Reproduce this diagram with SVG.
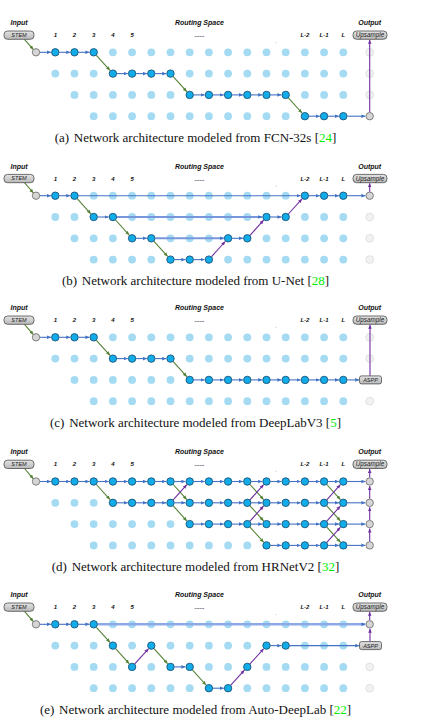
<svg xmlns="http://www.w3.org/2000/svg" xmlns:xlink="http://www.w3.org/1999/xlink" width="426" height="723" viewBox="0 0 426 723">
<style>
.l{fill:#a5dbf2}
.a{fill:#12ade8;stroke:#1d4a6e;stroke-width:0.8}
.gr{fill:#d6d6d6;stroke:#666;stroke-width:0.8}
.fo{fill:#f2f2f2;stroke:#d2d2d2;stroke-width:0.6}
.box{fill:url(#gb);stroke:#4d4d4d;stroke-width:0.8}
.b{stroke:#4472c4;stroke-width:1.1;fill:none;marker-end:url(#mb)}
.bl{stroke:#7896dc;stroke-width:2;fill:none;marker-end:url(#mb)}
.bx{stroke:#8eaae6;stroke-width:2.6;fill:none;marker-end:url(#mb)}
.g{stroke:#548235;stroke-width:1.1;fill:none;marker-end:url(#mg)}
.p{stroke:#7030a0;stroke-width:1.1;fill:none;marker-end:url(#mp)}
.hd{font-family:"Liberation Sans",Arial,sans-serif;font-weight:bold;font-style:italic;font-size:7px;text-anchor:middle;fill:#111}
.cl{font-family:"Liberation Sans",Arial,sans-serif;font-weight:bold;font-style:italic;font-size:6px;text-anchor:middle;fill:#111}
.bt{font-family:"Liberation Sans",Arial,sans-serif;font-style:italic;font-size:5.5px;text-anchor:middle;fill:#222}
.bu{font-size:6.3px}
.cap{font-family:"Liberation Serif","Times New Roman",serif;font-size:13px;text-anchor:middle;fill:#111}
.ct{fill:#00ee00}
.sp{fill:#c4c4c4}
</style>
<defs>
<linearGradient id="gb" x1="0" y1="0" x2="0" y2="1"><stop offset="0" stop-color="#e4e4e4"/><stop offset="1" stop-color="#b8b8b8"/></linearGradient>
<marker id="mb" markerUnits="userSpaceOnUse" markerWidth="4" markerHeight="4" refX="3.6" refY="1.6" orient="auto" viewBox="0 0 3.6 3.2"><path d="M0 0L3.6 1.6L0 3.2z" fill="#4472c4"/></marker>
<marker id="mg" markerUnits="userSpaceOnUse" markerWidth="4" markerHeight="4" refX="3.6" refY="1.6" orient="auto" viewBox="0 0 3.6 3.2"><path d="M0 0L3.6 1.6L0 3.2z" fill="#548235"/></marker>
<marker id="mp" markerUnits="userSpaceOnUse" markerWidth="4" markerHeight="4" refX="3.6" refY="1.6" orient="auto" viewBox="0 0 3.6 3.2"><path d="M0 0L3.6 1.6L0 3.2z" fill="#7030a0"/></marker>
<g id="grid" class="l">
<circle cx="55.3" cy="52.3" r="3.9"/><circle cx="74.5" cy="52.3" r="3.9"/><circle cx="93.7" cy="52.3" r="3.9"/><circle cx="112.9" cy="52.3" r="3.9"/><circle cx="132.1" cy="52.3" r="3.9"/><circle cx="151.3" cy="52.3" r="3.9"/><circle cx="170.5" cy="52.3" r="3.9"/><circle cx="189.7" cy="52.3" r="3.9"/><circle cx="208.9" cy="52.3" r="3.9"/><circle cx="228.1" cy="52.3" r="3.9"/><circle cx="247.3" cy="52.3" r="3.9"/><circle cx="266.5" cy="52.3" r="3.9"/><circle cx="285.7" cy="52.3" r="3.9"/><circle cx="304.9" cy="52.3" r="3.9"/><circle cx="324.1" cy="52.3" r="3.9"/><circle cx="343.3" cy="52.3" r="3.9"/>
<circle cx="55.3" cy="73.6" r="3.9"/><circle cx="74.5" cy="73.6" r="3.9"/><circle cx="93.7" cy="73.6" r="3.9"/><circle cx="112.9" cy="73.6" r="3.9"/><circle cx="132.1" cy="73.6" r="3.9"/><circle cx="151.3" cy="73.6" r="3.9"/><circle cx="170.5" cy="73.6" r="3.9"/><circle cx="189.7" cy="73.6" r="3.9"/><circle cx="208.9" cy="73.6" r="3.9"/><circle cx="228.1" cy="73.6" r="3.9"/><circle cx="247.3" cy="73.6" r="3.9"/><circle cx="266.5" cy="73.6" r="3.9"/><circle cx="285.7" cy="73.6" r="3.9"/><circle cx="304.9" cy="73.6" r="3.9"/><circle cx="324.1" cy="73.6" r="3.9"/><circle cx="343.3" cy="73.6" r="3.9"/>
<circle cx="74.5" cy="94.9" r="3.9"/><circle cx="93.7" cy="94.9" r="3.9"/><circle cx="112.9" cy="94.9" r="3.9"/><circle cx="132.1" cy="94.9" r="3.9"/><circle cx="151.3" cy="94.9" r="3.9"/><circle cx="170.5" cy="94.9" r="3.9"/><circle cx="189.7" cy="94.9" r="3.9"/><circle cx="208.9" cy="94.9" r="3.9"/><circle cx="228.1" cy="94.9" r="3.9"/><circle cx="247.3" cy="94.9" r="3.9"/><circle cx="266.5" cy="94.9" r="3.9"/><circle cx="285.7" cy="94.9" r="3.9"/><circle cx="304.9" cy="94.9" r="3.9"/><circle cx="324.1" cy="94.9" r="3.9"/><circle cx="343.3" cy="94.9" r="3.9"/>
<circle cx="93.7" cy="116.2" r="3.9"/><circle cx="112.9" cy="116.2" r="3.9"/><circle cx="132.1" cy="116.2" r="3.9"/><circle cx="151.3" cy="116.2" r="3.9"/><circle cx="170.5" cy="116.2" r="3.9"/><circle cx="189.7" cy="116.2" r="3.9"/><circle cx="208.9" cy="116.2" r="3.9"/><circle cx="228.1" cy="116.2" r="3.9"/><circle cx="247.3" cy="116.2" r="3.9"/><circle cx="266.5" cy="116.2" r="3.9"/><circle cx="285.7" cy="116.2" r="3.9"/><circle cx="304.9" cy="116.2" r="3.9"/><circle cx="324.1" cy="116.2" r="3.9"/><circle cx="343.3" cy="116.2" r="3.9"/>
</g>
</defs>
<rect width="426" height="723" fill="#fff"/>

<!-- Panel A -->
<g id="panel-a">
<text class="hd" x="19" y="25.2">Input</text><text class="hd" x="199.5" y="25.2">Routing Space</text><text class="hd" x="369.7" y="25.2">Output</text>
<text class="cl" x="55.3" y="37.3">1</text><text class="cl" x="74.5" y="37.3">2</text><text class="cl" x="93.7" y="37.3">3</text><text class="cl" x="112.9" y="37.3">4</text><text class="cl" x="132.1" y="37.3">5</text><text class="cl" x="199.5" y="37.3">......</text><text class="cl" x="304.9" y="37.3">L-2</text><text class="cl" x="324.1" y="37.3">L-1</text><text class="cl" x="343.3" y="37.3">L</text>
<circle class="sp" cx="276.3" cy="42.5" r="0.6"/>
<use xlink:href="#grid"/>
<circle class="fo" cx="369.7" cy="52.3" r="3.9"/><circle class="fo" cx="369.7" cy="73.6" r="3.9"/><circle class="fo" cx="369.7" cy="94.9" r="3.9"/>
<g id="a-links">
<path class="g" d="M24.5 39.3L33.4 49.6"/>
<path class="b" d="M40 52.3H51"/><path class="b" d="M59.3 52.3H70.2"/><path class="b" d="M78.5 52.3H89.4"/>
<path class="g" d="M96.4 55.3L110 70.4"/>
<path class="b" d="M116.9 73.6H127.8"/><path class="b" d="M136.1 73.6H147"/><path class="b" d="M155.3 73.6H166.2"/>
<path class="g" d="M173.2 76.6L186.8 91.7"/>
<path class="b" d="M193.7 94.9H204.6"/><path class="b" d="M212.9 94.9H223.8"/><path class="b" d="M232.1 94.9H243"/><path class="b" d="M251.3 94.9H262.2"/><path class="b" d="M270.5 94.9H281.4"/>
<path class="g" d="M288.4 97.9L302 113"/>
<path class="b" d="M308.9 116.2H319.8"/><path class="b" d="M328.1 116.2H339"/><path class="b" d="M347.3 116.2H365.4"/>
<path class="p" d="M369.7 112.2V39.8"/>
</g>
<g id="a-stem"><rect class="box" x="4" y="31" width="30" height="8.3" rx="3.5"/><text class="bt" x="19" y="37.1">STEM</text></g>
<g id="a-up"><rect class="box" x="353" y="31" width="34" height="8.3" rx="3.5"/><text class="bt bu" x="370" y="37.3">Upsample</text></g>
<g id="a-nodes">
<circle id="a-in" class="gr" cx="36" cy="52.3" r="3.7"/>
<circle id="a-r0c0" class="a" cx="55.3" cy="52.3" r="3.7"/><circle id="a-r0c1" class="a" cx="74.5" cy="52.3" r="3.7"/><circle id="a-r0c2" class="a" cx="93.7" cy="52.3" r="3.7"/>
<circle id="a-r1c3" class="a" cx="112.9" cy="73.6" r="3.7"/><circle id="a-r1c4" class="a" cx="132.1" cy="73.6" r="3.7"/><circle id="a-r1c5" class="a" cx="151.3" cy="73.6" r="3.7"/><circle id="a-r1c6" class="a" cx="170.5" cy="73.6" r="3.7"/>
<circle id="a-r2c7" class="a" cx="189.7" cy="94.9" r="3.7"/><circle id="a-r2c8" class="a" cx="208.9" cy="94.9" r="3.7"/><circle id="a-r2c9" class="a" cx="228.1" cy="94.9" r="3.7"/><circle id="a-r2c10" class="a" cx="247.3" cy="94.9" r="3.7"/><circle id="a-r2c11" class="a" cx="266.5" cy="94.9" r="3.7"/><circle id="a-r2c12" class="a" cx="285.7" cy="94.9" r="3.7"/>
<circle id="a-r3c13" class="a" cx="304.9" cy="116.2" r="3.7"/><circle id="a-r3c14" class="a" cx="324.1" cy="116.2" r="3.7"/><circle id="a-r3c15" class="a" cx="343.3" cy="116.2" r="3.7"/>
<circle id="a-out3" class="gr" cx="369.7" cy="116.2" r="3.7"/>
</g>
<text class="cap" x="195.5" y="141.5">(a) <tspan dx="1.5">Network architecture modeled from FCN-32s [</tspan><tspan class="ct">24</tspan>]</text>
</g>

<!-- Panel B -->
<g id="panel-b" transform="translate(0,143.4)">
<text class="hd" x="19" y="25.2">Input</text><text class="hd" x="199.5" y="25.2">Routing Space</text><text class="hd" x="369.7" y="25.2">Output</text>
<text class="cl" x="55.3" y="37.3">1</text><text class="cl" x="74.5" y="37.3">2</text><text class="cl" x="93.7" y="37.3">3</text><text class="cl" x="112.9" y="37.3">4</text><text class="cl" x="132.1" y="37.3">5</text><text class="cl" x="199.5" y="37.3">......</text><text class="cl" x="304.9" y="37.3">L-2</text><text class="cl" x="324.1" y="37.3">L-1</text><text class="cl" x="343.3" y="37.3">L</text>
<circle class="sp" cx="276.3" cy="42.5" r="0.6"/>
<use xlink:href="#grid"/>
<circle class="fo" cx="369.7" cy="73.6" r="3.9"/><circle class="fo" cx="369.7" cy="94.9" r="3.9"/><circle class="fo" cx="369.7" cy="116.2" r="3.9"/>
<g id="b-links">
<path class="g" d="M24.5 39.3L33.4 49.6"/>
<path class="b" d="M40 52.3H51"/><path class="b" d="M59.3 52.3H70.2"/>
<path class="b" d="M78.5 52.3H300.6"/>
<path class="b" d="M308.9 52.3H319.8"/><path class="b" d="M328.1 52.3H339"/><path class="b" d="M347.3 52.3H365.4"/>
<path class="p" d="M369.7 48.3V39.8"/>
<path class="g" d="M77.2 55.3L90.8 70.4"/>
<path class="b" d="M97.7 73.6H108.6"/>
<path class="bl" d="M116.9 73.6H262.2"/>
<path class="b" d="M270.5 73.6H281.4"/>
<path class="p" d="M288.4 70.6L302 55.5"/>
<path class="g" d="M115.6 76.6L129.2 91.7"/>
<path class="b" d="M136.1 94.9H147"/>
<path class="bl" d="M155.3 94.9H223.8"/>
<path class="b" d="M232.1 94.9H243"/>
<path class="p" d="M250 91.9L263.6 76.8"/>
<path class="g" d="M154 97.9L167.6 113"/>
<path class="b" d="M174.5 116.2H185.4"/><path class="b" d="M193.7 116.2H204.6"/>
<path class="p" d="M211.6 113.2L225.2 98.1"/>
</g>
<g id="b-stem"><rect class="box" x="4" y="31" width="30" height="8.3" rx="3.5"/><text class="bt" x="19" y="37.1">STEM</text></g>
<g id="b-up"><rect class="box" x="353" y="31" width="34" height="8.3" rx="3.5"/><text class="bt bu" x="370" y="37.3">Upsample</text></g>
<g id="b-nodes">
<circle id="b-in" class="gr" cx="36" cy="52.3" r="3.7"/>
<circle id="b-r0c0" class="a" cx="55.3" cy="52.3" r="3.7"/><circle id="b-r0c1" class="a" cx="74.5" cy="52.3" r="3.7"/>
<circle id="b-r0c13" class="a" cx="304.9" cy="52.3" r="3.7"/><circle id="b-r0c14" class="a" cx="324.1" cy="52.3" r="3.7"/><circle id="b-r0c15" class="a" cx="343.3" cy="52.3" r="3.7"/>
<circle id="b-out0" class="gr" cx="369.7" cy="52.3" r="3.7"/>
<circle id="b-r1c2" class="a" cx="93.7" cy="73.6" r="3.7"/><circle id="b-r1c3" class="a" cx="112.9" cy="73.6" r="3.7"/><circle id="b-r1c11" class="a" cx="266.5" cy="73.6" r="3.7"/><circle id="b-r1c12" class="a" cx="285.7" cy="73.6" r="3.7"/>
<circle id="b-r2c4" class="a" cx="132.1" cy="94.9" r="3.7"/><circle id="b-r2c5" class="a" cx="151.3" cy="94.9" r="3.7"/><circle id="b-r2c9" class="a" cx="228.1" cy="94.9" r="3.7"/><circle id="b-r2c10" class="a" cx="247.3" cy="94.9" r="3.7"/>
<circle id="b-r3c6" class="a" cx="170.5" cy="116.2" r="3.7"/><circle id="b-r3c7" class="a" cx="189.7" cy="116.2" r="3.7"/><circle id="b-r3c8" class="a" cx="208.9" cy="116.2" r="3.7"/>
</g>
<text class="cap" x="195.5" y="141.5">(b) <tspan dx="1.5">Network architecture modeled from U-Net [</tspan><tspan class="ct">28</tspan>]</text>
</g>

<!-- Panel C -->
<g id="panel-c" transform="translate(0,285)">
<text class="hd" x="19" y="25.2">Input</text><text class="hd" x="199.5" y="25.2">Routing Space</text><text class="hd" x="369.7" y="25.2">Output</text>
<text class="cl" x="55.3" y="37.3">1</text><text class="cl" x="74.5" y="37.3">2</text><text class="cl" x="93.7" y="37.3">3</text><text class="cl" x="112.9" y="37.3">4</text><text class="cl" x="132.1" y="37.3">5</text><text class="cl" x="199.5" y="37.3">......</text><text class="cl" x="304.9" y="37.3">L-2</text><text class="cl" x="324.1" y="37.3">L-1</text><text class="cl" x="343.3" y="37.3">L</text>
<circle class="sp" cx="276.3" cy="42.5" r="0.6"/>
<use xlink:href="#grid"/>
<circle class="fo" cx="369.7" cy="52.3" r="3.9"/><circle class="fo" cx="369.7" cy="73.6" r="3.9"/><circle class="fo" cx="369.7" cy="116.2" r="3.9"/>
<g id="c-links">
<path class="g" d="M24.5 39.3L33.4 49.6"/>
<path class="b" d="M40 52.3H51"/><path class="b" d="M59.3 52.3H70.2"/><path class="b" d="M78.5 52.3H89.4"/>
<path class="g" d="M96.4 55.3L110 70.4"/>
<path class="b" d="M116.9 73.6H127.8"/><path class="b" d="M136.1 73.6H147"/><path class="b" d="M155.3 73.6H166.2"/>
<path class="g" d="M173.2 76.6L186.8 91.7"/>
<path class="b" d="M193.7 94.9H204.6"/><path class="b" d="M212.9 94.9H223.8"/><path class="b" d="M232.1 94.9H243"/><path class="b" d="M251.3 94.9H262.2"/><path class="b" d="M270.5 94.9H281.4"/><path class="b" d="M289.7 94.9H300.6"/><path class="b" d="M308.9 94.9H319.8"/><path class="b" d="M328.1 94.9H339"/><path class="b" d="M347.3 94.9H359.2"/>
<path class="p" d="M370 90.8V39.8"/>
</g>
<g id="c-stem"><rect class="box" x="4" y="31" width="30" height="8.3" rx="3.5"/><text class="bt" x="19" y="37.1">STEM</text></g>
<g id="c-up"><rect class="box" x="353" y="31" width="34" height="8.3" rx="3.5"/><text class="bt bu" x="370" y="37.3">Upsample</text></g>
<g id="c-aspp"><rect class="box" x="359.5" y="90.9" width="22" height="8" rx="2"/><text class="bt" x="370.5" y="96.9">ASPP</text></g>
<g id="c-nodes">
<circle id="c-in" class="gr" cx="36" cy="52.3" r="3.7"/>
<circle id="c-r0c0" class="a" cx="55.3" cy="52.3" r="3.7"/><circle id="c-r0c1" class="a" cx="74.5" cy="52.3" r="3.7"/><circle id="c-r0c2" class="a" cx="93.7" cy="52.3" r="3.7"/>
<circle id="c-r1c3" class="a" cx="112.9" cy="73.6" r="3.7"/><circle id="c-r1c4" class="a" cx="132.1" cy="73.6" r="3.7"/><circle id="c-r1c5" class="a" cx="151.3" cy="73.6" r="3.7"/><circle id="c-r1c6" class="a" cx="170.5" cy="73.6" r="3.7"/>
<circle id="c-r2c7" class="a" cx="189.7" cy="94.9" r="3.7"/><circle id="c-r2c8" class="a" cx="208.9" cy="94.9" r="3.7"/><circle id="c-r2c9" class="a" cx="228.1" cy="94.9" r="3.7"/><circle id="c-r2c10" class="a" cx="247.3" cy="94.9" r="3.7"/><circle id="c-r2c11" class="a" cx="266.5" cy="94.9" r="3.7"/><circle id="c-r2c12" class="a" cx="285.7" cy="94.9" r="3.7"/><circle id="c-r2c13" class="a" cx="304.9" cy="94.9" r="3.7"/><circle id="c-r2c14" class="a" cx="324.1" cy="94.9" r="3.7"/><circle id="c-r2c15" class="a" cx="343.3" cy="94.9" r="3.7"/>
</g>
<text class="cap" x="195.5" y="141.5">(c) <tspan dx="1.5">Network architecture modeled from DeepLabV3 [</tspan><tspan class="ct">5</tspan>]</text>
</g>

<!-- Panel D -->
<g id="panel-d" transform="translate(0,429.2)">
<text class="hd" x="19" y="25.2">Input</text><text class="hd" x="199.5" y="25.2">Routing Space</text><text class="hd" x="369.7" y="25.2">Output</text>
<text class="cl" x="55.3" y="37.3">1</text><text class="cl" x="74.5" y="37.3">2</text><text class="cl" x="93.7" y="37.3">3</text><text class="cl" x="112.9" y="37.3">4</text><text class="cl" x="132.1" y="37.3">5</text><text class="cl" x="199.5" y="37.3">......</text><text class="cl" x="304.9" y="37.3">L-2</text><text class="cl" x="324.1" y="37.3">L-1</text><text class="cl" x="343.3" y="37.3">L</text>
<circle class="sp" cx="276.3" cy="42.5" r="0.6"/>
<use xlink:href="#grid"/>
<g id="d-links">
<path class="g" d="M24.5 39.3L33.4 49.6"/>
<path class="b" d="M40 52.3H51"/><path class="b" d="M59.3 52.3H70.2"/><path class="b" d="M78.5 52.3H89.4"/><path class="b" d="M97.7 52.3H108.6"/><path class="b" d="M116.9 52.3H127.8"/><path class="b" d="M136.1 52.3H147"/><path class="b" d="M155.3 52.3H166.2"/><path class="b" d="M174.5 52.3H185.4"/><path class="b" d="M193.7 52.3H204.6"/><path class="b" d="M212.9 52.3H223.8"/><path class="b" d="M232.1 52.3H243"/><path class="b" d="M251.3 52.3H262.2"/><path class="b" d="M270.5 52.3H281.4"/><path class="b" d="M289.7 52.3H300.6"/><path class="b" d="M308.9 52.3H319.8"/><path class="b" d="M328.1 52.3H339"/><path class="b" d="M347.3 52.3H365.4"/>
<path class="b" d="M116.9 73.6H127.8"/><path class="b" d="M136.1 73.6H147"/><path class="b" d="M155.3 73.6H166.2"/><path class="b" d="M174.5 73.6H185.4"/><path class="b" d="M193.7 73.6H204.6"/><path class="b" d="M212.9 73.6H223.8"/><path class="b" d="M232.1 73.6H243"/><path class="b" d="M251.3 73.6H262.2"/><path class="b" d="M270.5 73.6H281.4"/><path class="b" d="M289.7 73.6H300.6"/><path class="b" d="M308.9 73.6H319.8"/><path class="b" d="M328.1 73.6H339"/><path class="b" d="M347.3 73.6H365.4"/>
<path class="b" d="M193.7 94.9H204.6"/><path class="b" d="M212.9 94.9H223.8"/><path class="b" d="M232.1 94.9H243"/><path class="b" d="M251.3 94.9H262.2"/><path class="b" d="M270.5 94.9H281.4"/><path class="b" d="M289.7 94.9H300.6"/><path class="b" d="M308.9 94.9H319.8"/><path class="b" d="M328.1 94.9H339"/><path class="b" d="M347.3 94.9H365.4"/>
<path class="b" d="M270.5 116.2H281.4"/><path class="b" d="M289.7 116.2H300.6"/><path class="b" d="M308.9 116.2H319.8"/><path class="b" d="M328.1 116.2H339"/><path class="b" d="M347.3 116.2H365.4"/>
<path class="g" d="M96.4 55.3L110 70.4"/>
<path class="g" d="M173.2 55.3L186.8 70.4"/><path class="p" d="M173.2 70.6L186.8 55.5"/><path class="g" d="M173.2 76.6L186.8 91.7"/>
<path class="g" d="M250 55.3L263.6 70.4"/><path class="p" d="M250 70.6L263.6 55.5"/><path class="g" d="M250 76.6L263.6 91.7"/><path class="p" d="M250 91.9L263.6 76.8"/><path class="g" d="M250 97.9L263.6 113"/>
<path class="g" d="M326.8 55.3L340.4 70.4"/><path class="p" d="M326.8 70.6L340.4 55.5"/><path class="g" d="M326.8 76.6L340.4 91.7"/><path class="p" d="M326.8 91.9L340.4 76.8"/><path class="g" d="M326.8 97.9L340.4 113"/><path class="p" d="M326.8 113.2L340.4 98.1"/>
<path class="p" d="M369.7 112.2V99.4"/><path class="p" d="M369.7 90.9V78.1"/><path class="p" d="M369.7 69.6V56.8"/><path class="p" d="M369.7 48.3V39.8"/>
</g>
<g id="d-stem"><rect class="box" x="4" y="31" width="30" height="8.3" rx="3.5"/><text class="bt" x="19" y="37.1">STEM</text></g>
<g id="d-up"><rect class="box" x="353" y="31" width="34" height="8.3" rx="3.5"/><text class="bt bu" x="370" y="37.3">Upsample</text></g>
<g id="d-nodes">
<circle id="d-in" class="gr" cx="36" cy="52.3" r="3.7"/>
<circle id="d-r0c0" class="a" cx="55.3" cy="52.3" r="3.7"/><circle id="d-r0c1" class="a" cx="74.5" cy="52.3" r="3.7"/><circle id="d-r0c2" class="a" cx="93.7" cy="52.3" r="3.7"/><circle id="d-r0c3" class="a" cx="112.9" cy="52.3" r="3.7"/><circle id="d-r0c4" class="a" cx="132.1" cy="52.3" r="3.7"/><circle id="d-r0c5" class="a" cx="151.3" cy="52.3" r="3.7"/><circle id="d-r0c6" class="a" cx="170.5" cy="52.3" r="3.7"/><circle id="d-r0c7" class="a" cx="189.7" cy="52.3" r="3.7"/><circle id="d-r0c8" class="a" cx="208.9" cy="52.3" r="3.7"/><circle id="d-r0c9" class="a" cx="228.1" cy="52.3" r="3.7"/><circle id="d-r0c10" class="a" cx="247.3" cy="52.3" r="3.7"/><circle id="d-r0c11" class="a" cx="266.5" cy="52.3" r="3.7"/><circle id="d-r0c12" class="a" cx="285.7" cy="52.3" r="3.7"/><circle id="d-r0c13" class="a" cx="304.9" cy="52.3" r="3.7"/><circle id="d-r0c14" class="a" cx="324.1" cy="52.3" r="3.7"/><circle id="d-r0c15" class="a" cx="343.3" cy="52.3" r="3.7"/>
<circle id="d-r1c3" class="a" cx="112.9" cy="73.6" r="3.7"/><circle id="d-r1c4" class="a" cx="132.1" cy="73.6" r="3.7"/><circle id="d-r1c5" class="a" cx="151.3" cy="73.6" r="3.7"/><circle id="d-r1c6" class="a" cx="170.5" cy="73.6" r="3.7"/><circle id="d-r1c7" class="a" cx="189.7" cy="73.6" r="3.7"/><circle id="d-r1c8" class="a" cx="208.9" cy="73.6" r="3.7"/><circle id="d-r1c9" class="a" cx="228.1" cy="73.6" r="3.7"/><circle id="d-r1c10" class="a" cx="247.3" cy="73.6" r="3.7"/><circle id="d-r1c11" class="a" cx="266.5" cy="73.6" r="3.7"/><circle id="d-r1c12" class="a" cx="285.7" cy="73.6" r="3.7"/><circle id="d-r1c13" class="a" cx="304.9" cy="73.6" r="3.7"/><circle id="d-r1c14" class="a" cx="324.1" cy="73.6" r="3.7"/><circle id="d-r1c15" class="a" cx="343.3" cy="73.6" r="3.7"/>
<circle id="d-r2c7" class="a" cx="189.7" cy="94.9" r="3.7"/><circle id="d-r2c8" class="a" cx="208.9" cy="94.9" r="3.7"/><circle id="d-r2c9" class="a" cx="228.1" cy="94.9" r="3.7"/><circle id="d-r2c10" class="a" cx="247.3" cy="94.9" r="3.7"/><circle id="d-r2c11" class="a" cx="266.5" cy="94.9" r="3.7"/><circle id="d-r2c12" class="a" cx="285.7" cy="94.9" r="3.7"/><circle id="d-r2c13" class="a" cx="304.9" cy="94.9" r="3.7"/><circle id="d-r2c14" class="a" cx="324.1" cy="94.9" r="3.7"/><circle id="d-r2c15" class="a" cx="343.3" cy="94.9" r="3.7"/>
<circle id="d-r3c11" class="a" cx="266.5" cy="116.2" r="3.7"/><circle id="d-r3c12" class="a" cx="285.7" cy="116.2" r="3.7"/><circle id="d-r3c13" class="a" cx="304.9" cy="116.2" r="3.7"/><circle id="d-r3c14" class="a" cx="324.1" cy="116.2" r="3.7"/><circle id="d-r3c15" class="a" cx="343.3" cy="116.2" r="3.7"/>
<circle id="d-out0" class="gr" cx="369.7" cy="52.3" r="3.7"/><circle id="d-out1" class="gr" cx="369.7" cy="73.6" r="3.7"/><circle id="d-out2" class="gr" cx="369.7" cy="94.9" r="3.7"/><circle id="d-out3" class="gr" cx="369.7" cy="116.2" r="3.7"/>
</g>
<text class="cap" x="195.5" y="141.5">(d) <tspan dx="1.5">Network architecture modeled from HRNetV2 [</tspan><tspan class="ct">32</tspan>]</text>
</g>

<!-- Panel E -->
<g id="panel-e" transform="translate(0,572)">
<text class="hd" x="19" y="25.2">Input</text><text class="hd" x="199.5" y="25.2">Routing Space</text><text class="hd" x="369.7" y="25.2">Output</text>
<text class="cl" x="55.3" y="37.3">1</text><text class="cl" x="74.5" y="37.3">2</text><text class="cl" x="93.7" y="37.3">3</text><text class="cl" x="112.9" y="37.3">4</text><text class="cl" x="132.1" y="37.3">5</text><text class="cl" x="199.5" y="37.3">......</text><text class="cl" x="304.9" y="37.3">L-2</text><text class="cl" x="324.1" y="37.3">L-1</text><text class="cl" x="343.3" y="37.3">L</text>
<circle class="sp" cx="276.3" cy="42.5" r="0.6"/>
<use xlink:href="#grid"/>
<circle class="fo" cx="369.7" cy="94.9" r="3.9"/><circle class="fo" cx="369.7" cy="116.2" r="3.9"/>
<g id="e-links">
<path class="g" d="M24.5 39.3L33.4 49.6"/>
<path class="b" d="M40 52.3H51"/><path class="b" d="M59.3 52.3H70.2"/><path class="b" d="M78.5 52.3H89.4"/>
<path class="bx" d="M97.7 52.3H365.4"/>
<path class="g" d="M96.4 55.3L110 70.4"/>
<path class="g" d="M115.6 76.6L129.2 91.7"/>
<path class="p" d="M134.8 91.9L148.4 76.8"/>
<path class="g" d="M154 76.6L167.6 91.7"/>
<path class="b" d="M174.5 94.9H185.4"/>
<path class="g" d="M192.4 97.9L206 113"/>
<path class="b" d="M212.9 116.2H223.8"/>
<path class="p" d="M230.8 113.2L244.4 98.1"/>
<path class="p" d="M250 91.9L263.6 76.8"/>
<path class="b" d="M270.5 73.6H281.4"/>
<path class="b" d="M289.7 73.6H359.2"/>
<path class="p" d="M370 69.5V56.8"/>
<path class="p" d="M369.7 48.3V39.8"/>
</g>
<g id="e-stem"><rect class="box" x="4" y="31" width="30" height="8.3" rx="3.5"/><text class="bt" x="19" y="37.1">STEM</text></g>
<g id="e-up"><rect class="box" x="353" y="31" width="34" height="8.3" rx="3.5"/><text class="bt bu" x="370" y="37.3">Upsample</text></g>
<g id="e-aspp"><rect class="box" x="359.5" y="69.6" width="22" height="8" rx="2"/><text class="bt" x="370.5" y="75.6">ASPP</text></g>
<g id="e-nodes">
<circle id="e-in" class="gr" cx="36" cy="52.3" r="3.7"/>
<circle id="e-r0c0" class="a" cx="55.3" cy="52.3" r="3.7"/><circle id="e-r0c1" class="a" cx="74.5" cy="52.3" r="3.7"/><circle id="e-r0c2" class="a" cx="93.7" cy="52.3" r="3.7"/>
<circle id="e-r1c3" class="a" cx="112.9" cy="73.6" r="3.7"/><circle id="e-r2c4" class="a" cx="132.1" cy="94.9" r="3.7"/><circle id="e-r1c5" class="a" cx="151.3" cy="73.6" r="3.7"/><circle id="e-r2c6" class="a" cx="170.5" cy="94.9" r="3.7"/><circle id="e-r2c7" class="a" cx="189.7" cy="94.9" r="3.7"/>
<circle id="e-r3c8" class="a" cx="208.9" cy="116.2" r="3.7"/><circle id="e-r3c9" class="a" cx="228.1" cy="116.2" r="3.7"/><circle id="e-r2c10" class="a" cx="247.3" cy="94.9" r="3.7"/><circle id="e-r1c11" class="a" cx="266.5" cy="73.6" r="3.7"/><circle id="e-r1c12" class="a" cx="285.7" cy="73.6" r="3.7"/>
<circle id="e-out0" class="gr" cx="369.7" cy="52.3" r="3.7"/>
</g>
<text class="cap" x="195.5" y="141.5">(e) <tspan dx="1.5">Network architecture modeled from Auto-DeepLab [</tspan><tspan class="ct">22</tspan>]</text>
</g>
</svg>
